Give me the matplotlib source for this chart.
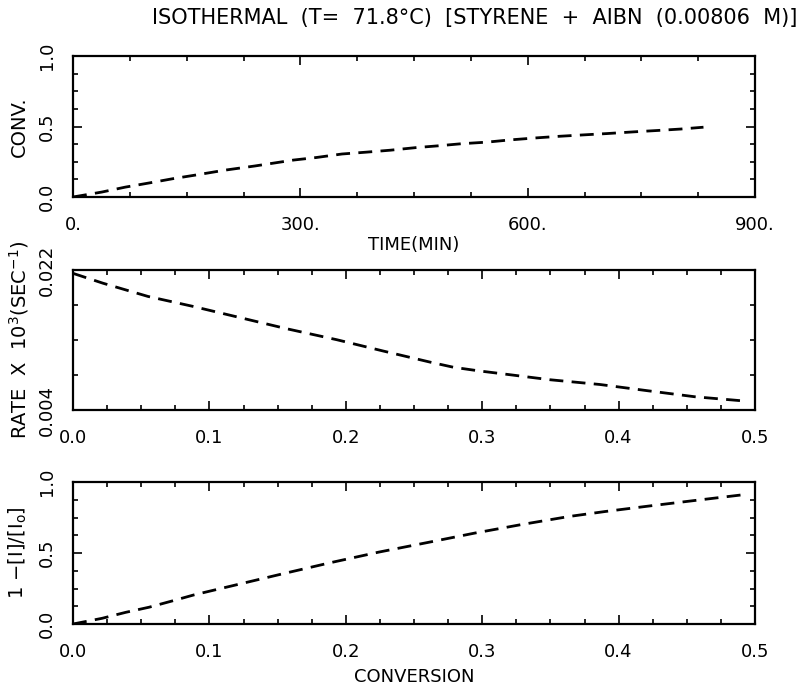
import numpy as np
import matplotlib
matplotlib.use("Agg")
import matplotlib.pyplot as plt
from matplotlib.ticker import FixedLocator, MultipleLocator, FixedFormatter

# conversion vs. time (isothermal run)
time_min = [0, 38, 69, 101, 132, 161, 200, 240, 291, 321, 355, 387, 419, 452,
            482, 513, 546, 577, 608, 640, 672, 705, 740, 772, 802, 832]
conv_time = [0, 0.035, 0.07, 0.10, 0.13, 0.155, 0.19, 0.22, 0.262, 0.28, 0.305,
             0.318, 0.332, 0.35, 0.363, 0.378, 0.389, 0.405, 0.418, 0.43, 0.44,
             0.45, 0.462, 0.472, 0.482, 0.495]

# rate vs. conversion
conv_rate = [0, 0.022, 0.055, 0.088, 0.1566, 0.1933, 0.2275, 0.2617, 0.2788,
             0.2971, 0.3142, 0.3497, 0.3863, 0.4216, 0.456, 0.4927]
rate = [0.02157, 0.0203, 0.0186, 0.01732, 0.01445, 0.01304, 0.01158, 0.01016,
        0.0095, 0.00904, 0.00867, 0.00789, 0.00728, 0.00647, 0.0057, 0.00515]

# initiator consumption vs. conversion
conv_init = [0, 0.0213, 0.0386, 0.0557, 0.0726, 0.0887, 0.1539, 0.1893, 0.2243,
             0.2595, 0.2944, 0.3286, 0.3636, 0.39, 0.4216, 0.456, 0.491]
init_frac = [0, 0.04, 0.082, 0.118, 0.162, 0.205, 0.354, 0.433, 0.5065, 0.573,
             0.64, 0.70, 0.757, 0.792, 0.83, 0.87, 0.91]

# axis ticks and their labels
time_ticks = [0, 300, 600, 900]
time_labels = ["0.", "300.", "600.", "900."]
conv_ticks = [0.0, 0.1, 0.2, 0.3, 0.4, 0.5]
conv_labels = ["0.0", "0.1", "0.2", "0.3", "0.4", "0.5"]
unit_ticks = [0.0, 0.5, 1.0]
unit_labels = ["0.0", "0.5", "1.0"]
rate_ticks = [0.004, 0.022]
rate_labels = ["0.004", "0.022"]
rate_minor = [0.0085, 0.013, 0.0175]

title = "ISOTHERMAL  (T=  71.8°C)  [STYRENE  +  AIBN  (0.00806  M)]"

W, H = 805, 687
fig = plt.figure(figsize=(W / 100, H / 100), dpi=100)
plt.rcParams["font.family"] = "DejaVu Sans"

TICK_FS = 13
LABEL_FS = 14


def frame(top_px, bottom_px, left_px=73, right_px=755):
    ax = fig.add_axes([left_px / W, 1 - bottom_px / H,
                       (right_px - left_px) / W, (bottom_px - top_px) / H])
    for s in ax.spines.values():
        s.set_linewidth(1.6)
    ax.tick_params(which="both", direction="in", top=True, right=True, width=1.2)
    ax.tick_params(which="major", length=6.5)
    ax.tick_params(which="minor", length=3.8)
    ax.tick_params(axis="x", which="both", pad=14, labelsize=TICK_FS)
    ax.tick_params(axis="y", which="both", pad=12, labelsize=TICK_FS)
    return ax


def set_ticks(ax, xt, xl, xminor, yt, yl, yminor):
    ax.xaxis.set_major_locator(FixedLocator(xt))
    ax.xaxis.set_major_formatter(FixedFormatter(xl))
    ax.xaxis.set_minor_locator(xminor)
    ax.yaxis.set_major_locator(FixedLocator(yt))
    ax.yaxis.set_major_formatter(FixedFormatter(yl))
    ax.yaxis.set_minor_locator(yminor)
    plt.setp(ax.get_yticklabels(), rotation=90, va="center")


def dashed(ax, x, y):
    ax.plot(x, y, color="black", lw=2.0, linestyle=(0, (5, 3)))


# top panel: conversion vs time
ax1 = frame(56, 197)
dashed(ax1, time_min, conv_time)
ax1.set_xlim(0, 900)
ax1.set_ylim(0, 1)
set_ticks(ax1, time_ticks, time_labels, MultipleLocator(75),
          unit_ticks, unit_labels, MultipleLocator(0.125))
ax1.set_xlabel("TIME(MIN)", fontsize=LABEL_FS - 1, labelpad=1)
ax1.set_ylabel("CONV.", fontsize=LABEL_FS, labelpad=7)

# middle panel: rate vs conversion
ax2 = frame(270, 410)
dashed(ax2, conv_rate, rate)
ax2.set_xlim(0, 0.5)
ax2.set_ylim(0.004, 0.022)
set_ticks(ax2, conv_ticks, conv_labels, MultipleLocator(0.025),
          rate_ticks, rate_labels, FixedLocator(rate_minor))
ax2.set_ylabel("RATE  X  10$^3$(SEC$^{-1}$)", fontsize=LABEL_FS, labelpad=5)

# bottom panel: 1-[I]/[Io] vs conversion
ax3 = frame(482, 624)
dashed(ax3, conv_init, init_frac)
ax3.set_xlim(0, 0.5)
ax3.set_ylim(0, 1)
set_ticks(ax3, conv_ticks, conv_labels, MultipleLocator(0.025),
          unit_ticks, unit_labels, MultipleLocator(0.125))
ax3.set_xlabel("CONVERSION", fontsize=LABEL_FS - 1, labelpad=5)
ax3.set_ylabel("1 $-$[I]/[I$_\\mathrm{o}$]", fontsize=LABEL_FS, labelpad=7)

fig.text(797 / W, 1 - 18 / H, title, ha="right", va="center", fontsize=15)

fig.savefig("out.png", dpi=100)
